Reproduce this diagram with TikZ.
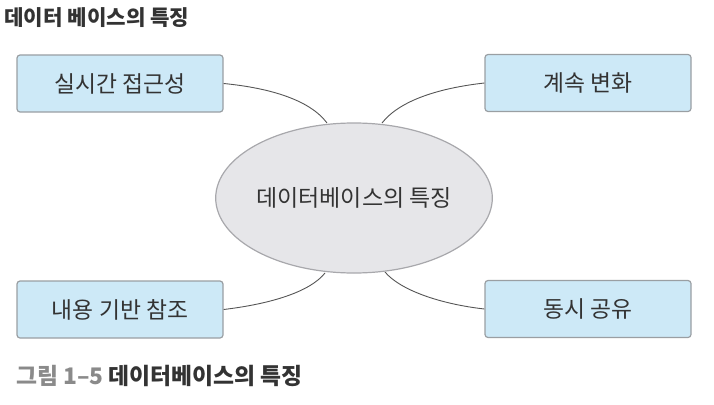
\documentclass[tikz,border=0pt]{standalone}
\usepackage{fontspec}
\setmainfont{Noto Sans CJK KR}
\usetikzlibrary{shapes.geometric}
\definecolor{boxfill}{HTML}{CDE9F7}
\definecolor{boxline}{HTML}{9A9FA3}
\definecolor{ellfill}{HTML}{E6E6E9}
\definecolor{ellline}{HTML}{A8A8AC}
\definecolor{txt}{HTML}{333333}
\definecolor{capgray}{HTML}{8A8A8A}
\definecolor{conn}{HTML}{555555}
\begin{document}
\begin{tikzpicture}[x=1pt,y=-1pt,
  featbox/.style={draw=boxline, line width=1.2pt, fill=boxfill, rounded corners=3pt,
    minimum width=206pt, minimum height=57pt, inner sep=0pt, text=txt,
    font=\fontsize{22.8}{26}\selectfont},
  conline/.style={draw=conn, line width=0.9pt}]
\useasboundingbox (0,0) rectangle (714,404);
\node[anchor=west, text=txt, font=\fontsize{21.2}{24}\selectfont\bfseries, inner sep=0pt] (title) at (4,18) {데이터 베이스의 특징};
\node[featbox] (b1) at (120,83.5) {실시간 접근성};
\node[featbox] (b2) at (588,83) {계속 변화};
\node[featbox] (b3) at (120,309.5) {내용 기반 참조};
\node[featbox] (b4) at (588,309) {동시 공유};
\coordinate (e1) at (327,123);
\coordinate (e2) at (382,123);
\coordinate (e3) at (325,273);
\coordinate (e4) at (385,272);
\draw[conline] (b1.east) .. controls (270,88) and (310,100) .. (e1);
\draw[conline] (b2.west) .. controls (440,88) and (400,100) .. (e2);
\draw[conline] (b3.east) .. controls (270,304) and (310,292) .. (e3);
\draw[conline] (b4.west) .. controls (440,304) and (400,290) .. (e4);
\node[ellipse, draw=ellline, line width=1.2pt, fill=ellfill, minimum width=264pt, minimum height=150pt,
  inner sep=0pt, text=txt, font=\fontsize{23}{26}\selectfont] (c) at (354,198) {데이터베이스의 특징};
\node[anchor=west, inner sep=0pt, font=\fontsize{22.8}{26}\selectfont\bfseries] (cap) at (16,376)
  {\textcolor{capgray}{그림 1–5} \textcolor{txt}{데이터베이스의 특징}};
\end{tikzpicture}
\end{document}
